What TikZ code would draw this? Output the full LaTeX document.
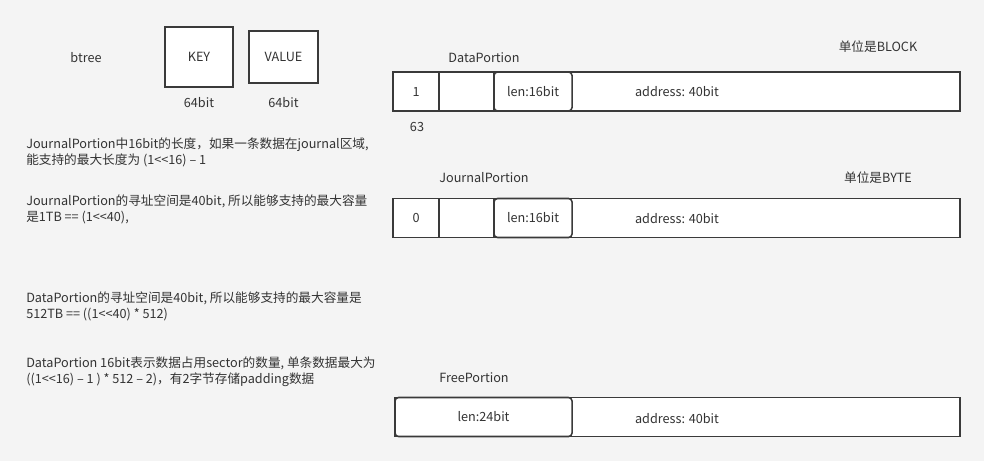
\documentclass[tikz,border=0pt]{standalone}
\usepackage{fontspec}
\setmainfont{Noto Sans CJK SC}
\usetikzlibrary{positioning}
\definecolor{bgGray}{HTML}{F4F4F4}
\definecolor{lineGray}{HTML}{3A3A3A}
\definecolor{txtGray}{HTML}{333333}
\tikzset{
  txt/.style={text=txtGray, font=\fontsize{9}{11.7}\selectfont, inner sep=0pt},
  note/.style={txt, align=left, anchor=west},
  box/.style={draw=lineGray, line width=1.4pt, fill=white, inner sep=0pt, outer sep=0pt, txt},
  rowbox/.style={box, minimum height=0.975cm},
  cell/.style={box, line width=1.1pt, minimum height=0.975cm},
  lenbox/.style={cell, rounded corners=2.5pt}
}

\begin{document}
\begin{tikzpicture}[x=0.025cm, y=-0.025cm]
  \fill[bgGray] (0,0) rectangle (984,461);
  \useasboundingbox (0,0) rectangle (984,461);

  % btree key / value
  \node[txt] (btree) at (86,58) {btree};
  \node[box, minimum width=1.7cm, minimum height=1.5cm] (keyBox) at (199,57) {KEY};
  \node[box, minimum width=1.725cm, minimum height=1.3cm, right=0.4cm of keyBox] (valueBox) {VALUE};
  \node[txt] (keyBits) at (199,103) {64bit};
  \node[txt] (valueBits) at (283.5,103) {64bit};

  % notes
  \node[note] (noteA) at (26,152.5) {JournalPortion中16bit的长度，如果一条数据在journal区域,\\能支持的最大长度为 (1<{}<16) -- 1};
  \node[note] (noteB) at (26,209.5) {JournalPortion的寻址空间是40bit, 所以能够支持的最大容量\\是1TB == (1<{}<40),};
  \node[note] (noteC) at (26,306.5) {DataPortion的寻址空间是40bit, 所以能够支持的最大容量是\\512TB == ((1<{}<40) * 512)};
  \node[note] (noteD) at (26,371.5) {DataPortion 16bit表示数据占用sector的数量, 单条数据最大为\\((1<{}<16) -- 1 ) * 512 -- 2)，有2字节存储padding数据};

  % DataPortion
  \node[txt] (dataTitle) at (484,58) {DataPortion};
  \node[txt] (dataUnit) at (878,47) {单位是BLOCK};
  \node[rowbox, minimum width=14.175cm, anchor=west] (dataRow) at (393,91.5) {};
  \node[cell, minimum width=1.15cm, anchor=west] (dataFlag) at (dataRow.west) {1};
  \node[cell, minimum width=1.375cm, right=0pt of dataFlag] (dataGap) {};
  \node[lenbox, minimum width=1.95cm, right=0pt of dataGap] (dataLen) {len:16bit};
  \node[txt] (dataAddr) at (677,92) {address: 40bit};
  \node[txt] (dataBit) at (417,127) {63};

  % JournalPortion
  \node[txt] (journalTitle) at (484,178) {JournalPortion};
  \node[txt] (journalUnit) at (878,178) {单位是BYTE};
  \node[rowbox, minimum width=14.175cm, anchor=west] (journalRow) at (393,218) {};
  \node[cell, minimum width=1.15cm, anchor=west] (journalFlag) at (journalRow.west) {0};
  \node[cell, minimum width=1.375cm, right=0pt of journalFlag] (journalGap) {};
  \node[lenbox, minimum width=1.95cm, right=0pt of journalGap] (journalLen) {len:16bit};
  \node[txt] (journalAddr) at (677,219) {address: 40bit};

  % FreePortion
  \node[txt] (freeTitle) at (474,378) {FreePortion};
  \node[rowbox, minimum width=14.125cm, anchor=west] (freeRow) at (395,417) {};
  \node[lenbox, minimum width=4.425cm, anchor=west] (freeLen) at (freeRow.west) {len:24bit};
  \node[txt] (freeAddr) at (677,419) {address: 40bit};
\end{tikzpicture}
\end{document}
